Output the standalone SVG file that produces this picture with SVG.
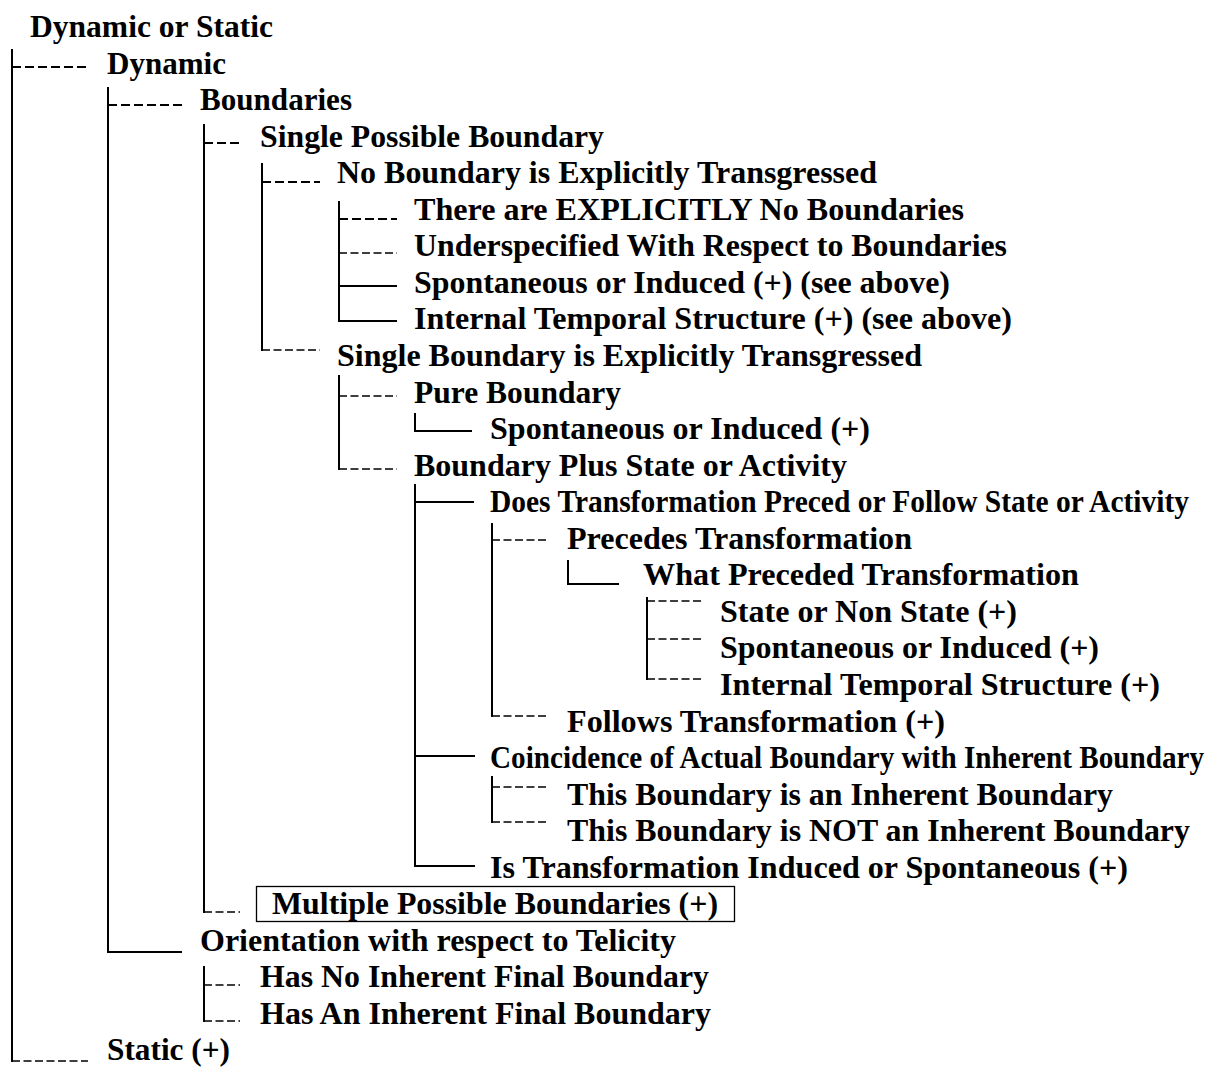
<svg xmlns="http://www.w3.org/2000/svg" width="1210" height="1068" viewBox="0 0 1210 1068">
  <style>
    .t { font-family: "Liberation Serif", "Times New Roman", serif; font-weight: bold; font-size: 31px; fill: #000; }
    .v { stroke: #000; stroke-width: 2; fill: none; }
    .s { stroke: #000; stroke-width: 2; fill: none; }
    .d { stroke: #000; stroke-width: 2; fill: none; stroke-dasharray: 9 4; }
    .dt { stroke: #000; stroke-width: 1.3; fill: none; stroke-dasharray: 8 3.5; }
    .box { stroke: #000; stroke-width: 1.3; fill: #fff; }
  </style>

  <!-- tree connectors -->
  <g id="connectors">
    <!-- root level -->
    <line class="v" x1="12" y1="49" x2="12" y2="1062"/>
    <line class="d" x1="12" y1="67" x2="88" y2="67"/>
    <line class="dt" x1="12" y1="1061" x2="88" y2="1061"/>

    <!-- under Dynamic -->
    <line class="v" x1="108" y1="87" x2="108" y2="953"/>
    <line class="d" x1="108" y1="105" x2="184" y2="105"/>
    <line class="s" x1="108" y1="952" x2="182" y2="952"/>

    <!-- under Boundaries -->
    <line class="v" x1="204" y1="124" x2="204" y2="913"/>
    <line class="d" x1="204" y1="143" x2="239" y2="143"/>
    <line class="dt" x1="204" y1="912" x2="240" y2="912"/>

    <!-- under Orientation with respect to Telicity -->
    <line class="v" x1="204" y1="966" x2="204" y2="1022"/>
    <line class="dt" x1="204" y1="985" x2="240" y2="985"/>
    <line class="dt" x1="204" y1="1021" x2="240" y2="1021"/>

    <!-- under Single Possible Boundary -->
    <line class="v" x1="262" y1="163" x2="262" y2="351"/>
    <line class="d" x1="262" y1="182" x2="320" y2="182"/>
    <line class="dt" x1="262" y1="350" x2="320" y2="350"/>

    <!-- under No Boundary is Explicitly Transgressed -->
    <line class="v" x1="339" y1="201" x2="339" y2="322"/>
    <line class="d" x1="339" y1="219" x2="397" y2="219"/>
    <line class="dt" x1="339" y1="253" x2="397" y2="253"/>
    <line class="s" x1="339" y1="286" x2="397" y2="286"/>
    <line class="s" x1="339" y1="321" x2="397" y2="321"/>

    <!-- under Single Boundary is Explicitly Transgressed -->
    <line class="v" x1="339" y1="375" x2="339" y2="470"/>
    <line class="dt" x1="339" y1="396" x2="397" y2="396"/>
    <line class="dt" x1="339" y1="469" x2="397" y2="469"/>

    <!-- under Pure Boundary -->
    <polyline class="v" points="415,413 415,431 472,431"/>

    <!-- under Boundary Plus State or Activity -->
    <line class="v" x1="415" y1="484" x2="415" y2="867"/>
    <line class="s" x1="415" y1="502" x2="474" y2="502"/>
    <line class="s" x1="415" y1="756" x2="475" y2="756"/>
    <line class="s" x1="415" y1="866" x2="475" y2="866"/>

    <!-- under Does Transformation Preced or Follow State or Activity -->
    <line class="v" x1="492" y1="523" x2="492" y2="717"/>
    <line class="dt" x1="492" y1="540" x2="549" y2="540"/>
    <line class="dt" x1="492" y1="716" x2="549" y2="716"/>

    <!-- under Precedes Transformation -->
    <polyline class="v" points="568,560 568,584 619,584"/>

    <!-- under What Preceded Transformation -->
    <line class="v" x1="647" y1="597" x2="647" y2="680"/>
    <line class="dt" x1="647" y1="601" x2="704" y2="601"/>
    <line class="dt" x1="647" y1="639" x2="704" y2="639"/>
    <line class="dt" x1="647" y1="679" x2="704" y2="679"/>

    <!-- under Coincidence of Actual Boundary with Inherent Boundary -->
    <line class="v" x1="492" y1="776" x2="492" y2="823"/>
    <line class="dt" x1="492" y1="787" x2="549" y2="787"/>
    <line class="dt" x1="492" y1="822" x2="549" y2="822"/>
  </g>

  <!-- nodes -->
  <g id="n-dynamic-or-static"><text class="t" x="30" y="37" textLength="243" lengthAdjust="spacingAndGlyphs">Dynamic or Static</text></g>
  <g id="n-dynamic"><text class="t" x="107" y="73.6" textLength="119" lengthAdjust="spacingAndGlyphs">Dynamic</text></g>
  <g id="n-boundaries"><text class="t" x="200" y="110.1" textLength="152" lengthAdjust="spacingAndGlyphs">Boundaries</text></g>
  <g id="n-single-possible"><text class="t" x="260" y="146.7" textLength="344" lengthAdjust="spacingAndGlyphs">Single Possible Boundary</text></g>
  <g id="n-no-boundary"><text class="t" x="337" y="183.2" textLength="540" lengthAdjust="spacingAndGlyphs">No Boundary is Explicitly Transgressed</text></g>
  <g id="n-explicitly-none"><text class="t" x="414" y="219.8" textLength="550" lengthAdjust="spacingAndGlyphs">There are EXPLICITLY No Boundaries</text></g>
  <g id="n-underspecified"><text class="t" x="414" y="256.3" textLength="593" lengthAdjust="spacingAndGlyphs">Underspecified With Respect to Boundaries</text></g>
  <g id="n-spont-see-above"><text class="t" x="414" y="292.9" textLength="536" lengthAdjust="spacingAndGlyphs">Spontaneous or Induced (+) (see above)</text></g>
  <g id="n-its-see-above"><text class="t" x="414" y="329.4" textLength="598" lengthAdjust="spacingAndGlyphs">Internal Temporal Structure (+) (see above)</text></g>
  <g id="n-single-transgressed"><text class="t" x="337" y="366" textLength="585" lengthAdjust="spacingAndGlyphs">Single Boundary is Explicitly Transgressed</text></g>
  <g id="n-pure"><text class="t" x="414" y="402.5" textLength="207" lengthAdjust="spacingAndGlyphs">Pure Boundary</text></g>
  <g id="n-pure-spont"><text class="t" x="490" y="439.1" textLength="380" lengthAdjust="spacingAndGlyphs">Spontaneous or Induced (+)</text></g>
  <g id="n-plus-state"><text class="t" x="414" y="475.6" textLength="433" lengthAdjust="spacingAndGlyphs">Boundary Plus State or Activity</text></g>
  <g id="n-precede-follow"><text class="t" x="490" y="512.2" textLength="699" lengthAdjust="spacingAndGlyphs">Does Transformation Preced or Follow State or Activity</text></g>
  <g id="n-precedes"><text class="t" x="567" y="548.7" textLength="345" lengthAdjust="spacingAndGlyphs">Precedes Transformation</text></g>
  <g id="n-what-preceded"><text class="t" x="643" y="585.3" textLength="436" lengthAdjust="spacingAndGlyphs">What Preceded Transformation</text></g>
  <g id="n-state-nonstate"><text class="t" x="720" y="621.8" textLength="297" lengthAdjust="spacingAndGlyphs">State or Non State (+)</text></g>
  <g id="n-wp-spont"><text class="t" x="720" y="658.4" textLength="379" lengthAdjust="spacingAndGlyphs">Spontaneous or Induced (+)</text></g>
  <g id="n-wp-its"><text class="t" x="720" y="694.9" textLength="440" lengthAdjust="spacingAndGlyphs">Internal Temporal Structure (+)</text></g>
  <g id="n-follows"><text class="t" x="567" y="731.5" textLength="378" lengthAdjust="spacingAndGlyphs">Follows Transformation (+)</text></g>
  <g id="n-coincidence"><text class="t" x="490" y="768" textLength="714" lengthAdjust="spacingAndGlyphs">Coincidence of Actual Boundary with Inherent Boundary</text></g>
  <g id="n-is-inherent"><text class="t" x="567" y="804.6" textLength="546" lengthAdjust="spacingAndGlyphs">This Boundary is an Inherent Boundary</text></g>
  <g id="n-not-inherent"><text class="t" x="567" y="841.1" textLength="623" lengthAdjust="spacingAndGlyphs">This Boundary is NOT an Inherent Boundary</text></g>
  <g id="n-induced-spont"><text class="t" x="490" y="877.7" textLength="638" lengthAdjust="spacingAndGlyphs">Is Transformation Induced or Spontaneous (+)</text></g>
  <g id="n-multiple">
    <rect class="box" x="256.5" y="886.5" width="478" height="35"/>
    <text class="t" x="272" y="914.2" textLength="446" lengthAdjust="spacingAndGlyphs">Multiple Possible Boundaries (+)</text>
  </g>
  <g id="n-telicity"><text class="t" x="200" y="950.8" textLength="476" lengthAdjust="spacingAndGlyphs">Orientation with respect to Telicity</text></g>
  <g id="n-no-final"><text class="t" x="260" y="987.3" textLength="449" lengthAdjust="spacingAndGlyphs">Has No Inherent Final Boundary</text></g>
  <g id="n-has-final"><text class="t" x="260" y="1023.9" textLength="451" lengthAdjust="spacingAndGlyphs">Has An Inherent Final Boundary</text></g>
  <g id="n-static"><text class="t" x="107" y="1060.4" textLength="123" lengthAdjust="spacingAndGlyphs">Static (+)</text></g>
</svg>
